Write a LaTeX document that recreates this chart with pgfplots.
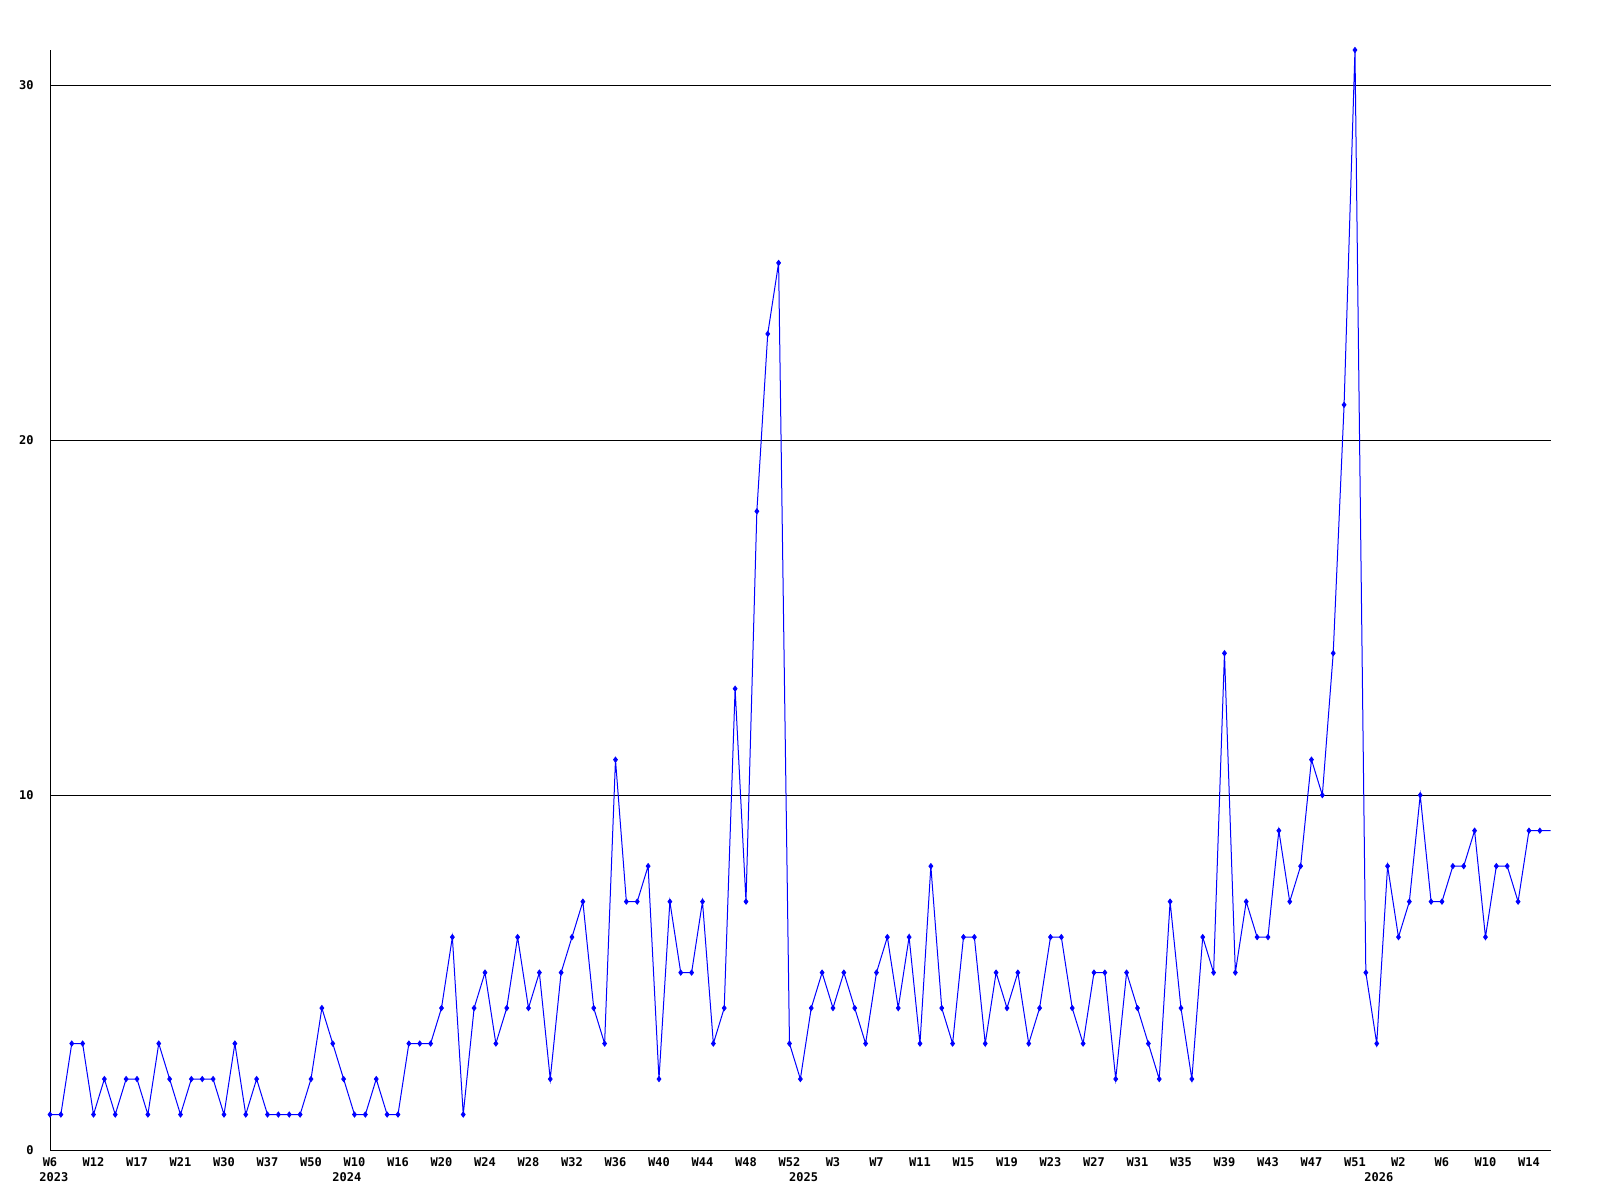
\documentclass[border=0pt]{standalone}
\usepackage{fontspec}
\setmonofont{DejaVu Sans Mono}
\usepackage{pgfplots}
\usepackage{pgfplotstable}
\pgfplotsset{compat=1.18}
\pgfplotstableread{
i v
0 1
1 1
2 3
3 3
4 1
5 2
6 1
7 2
8 2
9 1
10 3
11 2
12 1
13 2
14 2
15 2
16 1
17 3
18 1
19 2
20 1
21 1
22 1
23 1
24 2
25 4
26 3
27 2
28 1
29 1
30 2
31 1
32 1
33 3
34 3
35 3
36 4
37 6
38 1
39 4
40 5
41 3
42 4
43 6
44 4
45 5
46 2
47 5
48 6
49 7
50 4
51 3
52 11
53 7
54 7
55 8
56 2
57 7
58 5
59 5
60 7
61 3
62 4
63 13
64 7
65 18
66 23
67 25
68 3
69 2
70 4
71 5
72 4
73 5
74 4
75 3
76 5
77 6
78 4
79 6
80 3
81 8
82 4
83 3
84 6
85 6
86 3
87 5
88 4
89 5
90 3
91 4
92 6
93 6
94 4
95 3
96 5
97 5
98 2
99 5
100 4
101 3
102 2
103 7
104 4
105 2
106 6
107 5
108 14
109 5
110 7
111 6
112 6
113 9
114 7
115 8
116 11
117 10
118 14
119 21
120 31
121 5
122 3
123 8
124 6
125 7
126 10
127 7
128 7
129 8
130 8
131 9
132 6
133 8
134 8
135 7
136 9
137 9
138 9
}\datatable
\begin{document}
\begin{tikzpicture}
\useasboundingbox (-25pt,-25pt) rectangle (775pt,575pt);
\begin{axis}[
  at={(0,0)}, anchor=south west,
  scale only axis,
  width=750.35pt, height=550pt,
  xmin=0, xmax=138, ymin=0, ymax=31,
  axis x line=bottom, axis y line=left,
  axis line style={-, black, line width=0.5pt},
  clip=false,
  major tick length=0pt,
  xtick={0,4,...,136},
  xticklabels={W6,W12,W17,W21,W30,W37,W50,W10,W16,W20,W24,W28,W32,W36,W40,W44,W48,W52,W3,W7,W11,W15,W19,W23,W27,W31,W35,W39,W43,W47,W51,W2,W6,W10,W14},
  ytick={0,10,20,30},
  yticklabels={0,10,20,30},
  ymajorgrids,
  grid style={black, line width=0.5pt},
  ticklabel style={font=\ttfamily\bfseries\fontsize{6}{7}\selectfont},
  xticklabel style={anchor=north, inner sep=0pt, yshift=-3.5pt},
  yticklabel style={anchor=east, inner sep=0pt, xshift=-8pt},
]
\addplot[blue, line width=0.5pt, no marks] table[x=i, y=v] {\datatable};
\addplot[blue, only marks, mark=diamond*, mark size=1.3pt, restrict x to domain=0:137] table[x=i, y=v] {\datatable};
\foreach \xx/\yy in {0.35/2023, 27.3/2024, 69.3/2025, 122.2/2026}{
  \edef\tmp{\noexpand\node[anchor=north, inner sep=0pt, yshift=-11pt, font=\noexpand\ttfamily\noexpand\bfseries\noexpand\fontsize{6}{7}\noexpand\selectfont] at (axis cs:\xx,0) {\yy};}
  \tmp
}
\end{axis}
\end{tikzpicture}
\end{document}
